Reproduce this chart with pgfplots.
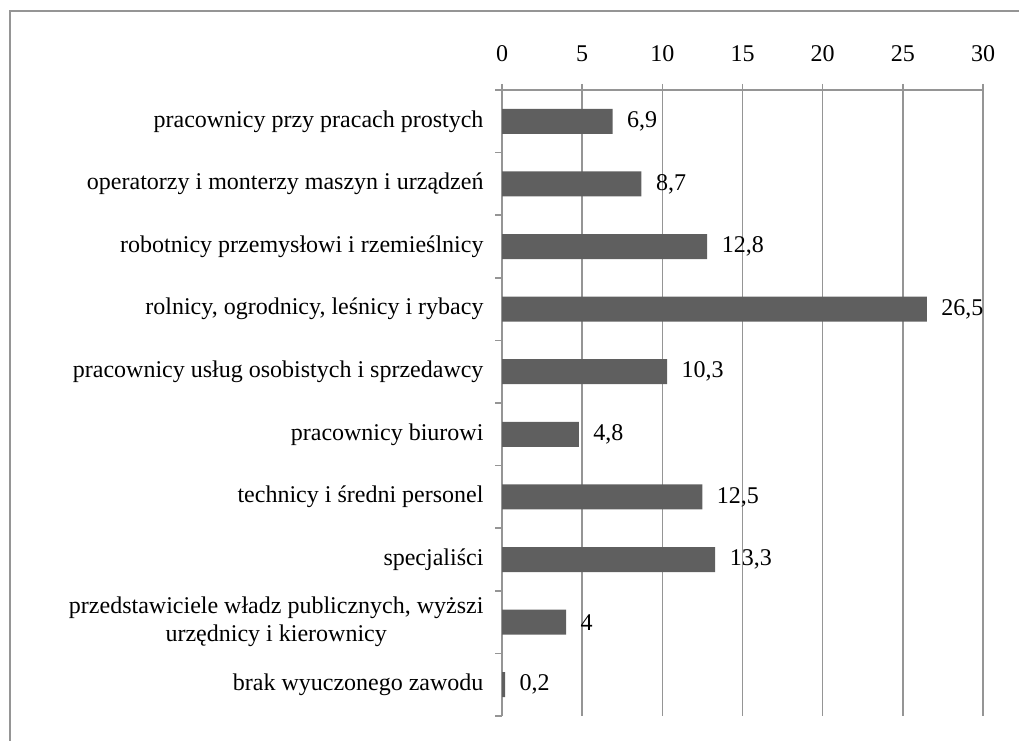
\documentclass[border=0pt]{standalone}
\usepackage{pgfplots}
\pgfplotsset{compat=1.18}
\usepackage{fontspec}
\setmainfont{Liberation Serif}
\definecolor{barc}{HTML}{5F5F5F}
\definecolor{gridc}{HTML}{959595}
\begin{document}
\begin{tikzpicture}[x=1pt,y=1pt]
\path[use as bounding box] (0,0) rectangle (1019,740);
\clip (0,0) rectangle (1019,740);
\draw[gridc, line width=1.5pt] (10,729) rectangle (1040,-20);
\begin{axis}[
  at={(502pt,24pt)}, anchor=south west,
  scale only axis, width=481pt, height=626pt,
  font=\fontsize{24}{28}\selectfont,
  /pgf/number format/assume math mode=true,
  /pgf/number format/use comma,
  xbar, bar width=25pt,
  xmin=0, xmax=30, xtick={0,5,...,30},
  ymin=-0.5, ymax=9.5, y dir=reverse,
  axis x line=top, axis y line=left,
  axis line style={-, gridc, line width=1.5pt},
  xmajorgrids, grid style={gridc, line width=1.5pt},
  tick align=outside,
  major tick length=6pt, minor tick length=7pt,
  tick style={gridc, line width=1.5pt},
  ytick={0,...,9},
  every major y tick/.append style={draw=none},
  minor ytick={-0.5,0.5,...,9.5},
  yticklabel style={align=center, font=\fontsize{24}{28}\selectfont, xshift=-9pt},
  yticklabels={
    pracownicy przy pracach prostych,
    operatorzy i monterzy maszyn i urządzeń,
    robotnicy przemysłowi i rzemieślnicy,
    {rolnicy, ogrodnicy, leśnicy i rybacy},
    pracownicy usług osobistych i sprzedawcy,
    pracownicy biurowi,
    technicy i średni personel,
    specjaliści,
    {przedstawiciele władz publicznych, wyższi\\urzędnicy i kierownicy},
    brak wyuczonego zawodu},
  xticklabel style={yshift=19pt},
  nodes near coords,
  every node near coord/.append style={xshift=11pt, black},
  clip=false,
]
\addplot[fill=barc, draw=none] coordinates {
  (6.9,0) (8.7,1) (12.8,2) (26.5,3) (10.3,4)
  (4.8,5) (12.5,6) (13.3,7) (4,8) (0.2,9)};
\end{axis}
\end{tikzpicture}
\end{document}
